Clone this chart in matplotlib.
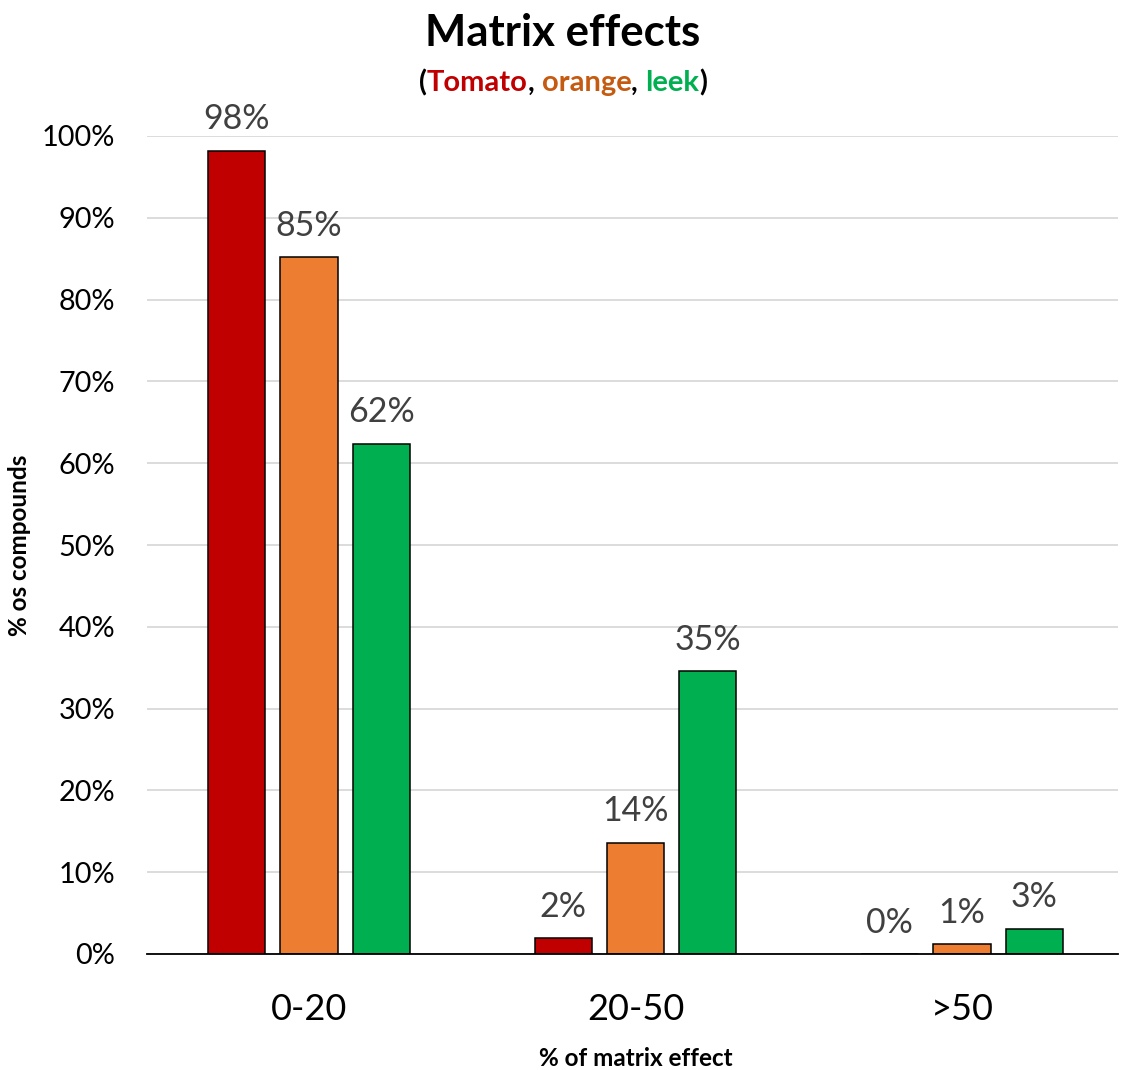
import matplotlib
matplotlib.use("Agg")
import matplotlib.pyplot as plt
import numpy as np

categories = ["0-20", "20-50", ">50"]
series_names = ["Tomato", "orange", "leek"]
tomato = [98.2, 1.9, 0.0]
orange = [85.2, 13.6, 1.2]
leek = [62.4, 34.6, 3.1]
yticks = [0, 10, 20, 30, 40, 50, 60, 70, 80, 90, 100]

bar_colors = ["#C00000", "#ED7D31", "#00B050"]
sub_colors = ["#C00000", "#C55A11", "#00B050"]

FONT = "Lato"
plt.rcParams['font.family'] = [FONT, 'DejaVu Sans']

fig = plt.figure(figsize=(11.21, 10.70), dpi=100)
ax = fig.add_axes([147/1121, (1070-954)/1070, (1118-147)/1121, (954-136)/1070])

x = np.arange(len(categories))
width = 0.1746
step = 0.222
for i, vals in enumerate([tomato, orange, leek]):
    pos = x + (i - 1) * step
    ax.bar(pos, vals, width, color=bar_colors[i], edgecolor="black",
           linewidth=1.1, zorder=3)
    for xp, v in zip(pos, vals):
        ax.annotate(f"{round(v):d}%", xy=(xp, v), xytext=(0, 11),
                    textcoords="offset points", ha="center", va="bottom",
                    fontsize=24.5, color="#404040", annotation_clip=False)

ax.set_xlim(-162/326.5, 809/326.5)
ax.set_ylim(0, 100)
ax.set_yticks(yticks)
ax.set_yticklabels([f"{t}%" for t in yticks], fontsize=20.8)
ax.set_xticks(x)
ax.set_xticklabels(categories, fontsize=26)
ax.tick_params(axis="both", length=0)
ax.tick_params(axis="y", pad=23)
ax.tick_params(axis="x", pad=28)
ax.yaxis.grid(True, color="#D9D9D9", linewidth=1.3, zorder=0)
ax.set_axisbelow(True)
for s in ["top", "right", "left"]:
    ax.spines[s].set_visible(False)
ax.spines["bottom"].set_color("black")
ax.spines["bottom"].set_linewidth(1.3)
ax.spines["bottom"].set_zorder(4)

fig.text(20/1121, 1 - 545/1070, "% os compounds", rotation=90, ha="center",
         va="center", fontsize=17.5, fontweight="bold")
fig.text(636/1121, 1 - 1058/1070, "% of matrix effect", ha="center",
         va="center", fontsize=17.5, fontweight="bold")

fig.text(563/1121, 1 - 33/1070, "Matrix effects", ha="center", va="center",
         fontsize=31.5, fontweight="bold")

# coloured subtitle
pieces = [("(", "black"), ("Tomato", sub_colors[0]), (", ", "black"),
          ("orange", sub_colors[1]), (", ", "black"), ("leek", sub_colors[2]),
          (")", "black")]
renderer = fig.canvas.get_renderer()
texts = []
for s, c in pieces:
    t = fig.text(0, 1 - 83/1070, s, ha="left", va="center", fontsize=21,
                 fontweight="bold", color=c)
    texts.append(t)
widths = [t.get_window_extent(renderer).width for t in texts]
total = sum(widths)
xcur = 563 - total / 2
for t, w in zip(texts, widths):
    t.set_x(xcur / 1121)
    xcur += w

fig.savefig("out.png", dpi=100)
